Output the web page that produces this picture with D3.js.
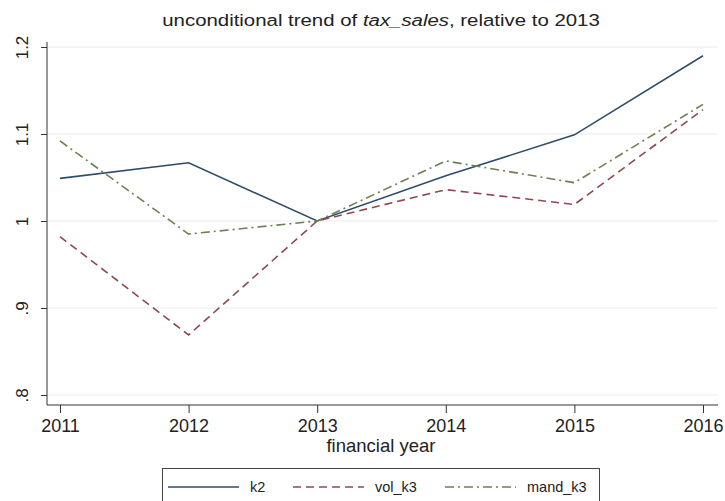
<!DOCTYPE html>
<html>
<head>
<meta charset="utf-8">
<script src="https://cdn.jsdelivr.net/npm/d3@7"></script>
<style>
  body { margin: 0; background: #fff; }
  svg { display: block; font-family: "Liberation Sans", Arial, sans-serif; }
</style>
</head>
<body>
<div id="chart"></div>
<script>
// data
const years = [2011, 2012, 2013, 2014, 2015, 2016];
const k2 = [1.049, 1.067, 1.000, 1.052, 1.099, 1.190];
const volK3 = [0.982, 0.869, 1.000, 1.036, 1.019, 1.128];
const mandK3 = [1.092, 0.985, 1.000, 1.069, 1.044, 1.134];
const yTicks = [0.8, 0.9, 1.0, 1.1, 1.2];
const yTickLabels = [".8", ".9", "1", "1.1", "1.2"];

const series = [
    { name: "k2", values: k2, color: "#2f4d6b", dash: null },
    { name: "vol_k3", values: volK3, color: "#924750", dash: "8,5" },
    { name: "mand_k3", values: mandK3, color: "#6e8054", dash: "9,4,2,4" }
];

const width = 725, height = 501;

const svg = d3.select("#chart").append("svg")
    .attr("width", width)
    .attr("height", height);

const x = d3.scaleLinear().domain([2011, 2016]).range([60, 703]);
const y = d3.scaleLinear().domain([0.8, 1.2]).range([395, 47]);

const axisLeft = 47, axisBottom = 405, plotRight = 718;

// gridlines
svg.append("g").selectAll("line")
    .data(yTicks)
    .join("line")
    .attr("x1", axisLeft)
    .attr("x2", plotRight)
    .attr("y1", d => y(d))
    .attr("y2", d => y(d))
    .attr("stroke", "#ececec")
    .attr("stroke-width", 1);

// y axis
const yAxis = svg.append("g")
    .attr("transform", `translate(${axisLeft},0)`)
    .call(d3.axisLeft(y).tickValues(yTicks).tickSize(6)
        .tickFormat((d, i) => yTickLabels[i]));
yAxis.select(".domain").attr("d", `M0,${y(1.2) - 5}V${axisBottom}`);
yAxis.selectAll(".tick line").attr("stroke", "#333");
yAxis.selectAll(".tick text")
    .attr("transform", "rotate(-90)")
    .attr("x", 0)
    .attr("y", -25)
    .attr("dy", "0.35em")
    .attr("text-anchor", "middle")
    .attr("font-size", 17)
    .attr("fill", "#222");

// x axis
const xAxis = svg.append("g")
    .attr("transform", `translate(0,${axisBottom})`)
    .call(d3.axisBottom(x).tickValues(years).tickSize(8).tickFormat(d3.format("d")));
xAxis.select(".domain").attr("d", `M${axisLeft},0H${plotRight}`);
xAxis.selectAll(".tick line").attr("stroke", "#333");
xAxis.selectAll(".tick text")
    .attr("y", 14)
    .attr("font-size", 18)
    .attr("fill", "#222");
svg.selectAll(".domain").attr("stroke", "#333");

// lines
const line = d3.line()
    .x((d, i) => x(years[i]))
    .y(d => y(d));

svg.append("g").selectAll("path")
    .data(series)
    .join("path")
    .attr("d", d => line(d.values))
    .attr("fill", "none")
    .attr("stroke", d => d.color)
    .attr("stroke-width", 1.6)
    .attr("stroke-dasharray", d => d.dash);

// title (stretched a little to match the wide reference lettering)
const title = svg.append("text")
    .attr("transform", "translate(381,26) scale(1.2,1)")
    .attr("text-anchor", "middle")
    .attr("font-size", 17)
    .attr("fill", "#222");
title.append("tspan").text("unconditional trend of ");
title.append("tspan").attr("font-style", "italic").text("tax_sales");
title.append("tspan").text(", relative to 2013");

// x axis title
svg.append("text")
    .attr("x", 381)
    .attr("y", 452)
    .attr("text-anchor", "middle")
    .attr("font-size", 18.5)
    .attr("fill", "#222")
    .text("financial year");

// legend
const legend = svg.append("g");
legend.append("rect")
    .attr("x", 162.5)
    .attr("y", 468.5)
    .attr("width", 437)
    .attr("height", 40)
    .attr("fill", "#fff")
    .attr("stroke", "#444");

const legendX = [168, 293, 445];
const item = legend.selectAll("g.item")
    .data(series)
    .join("g")
    .attr("class", "item")
    .attr("transform", (d, i) => `translate(${legendX[i]},487)`);
item.append("line")
    .attr("x1", 0).attr("x2", 71)
    .attr("stroke", d => d.color)
    .attr("stroke-width", 1.5)
    .attr("stroke-dasharray", d => d.dash);
item.append("text")
    .attr("x", 82)
    .attr("dy", "0.35em")
    .attr("font-size", 14.5)
    .attr("fill", "#222")
    .text(d => d.name);
</script>
</body>
</html>
